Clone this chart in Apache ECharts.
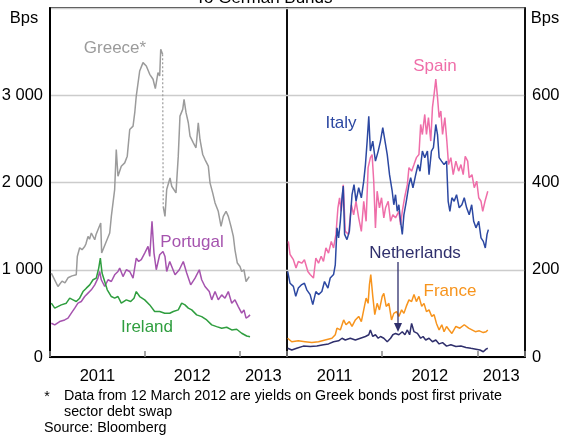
<!DOCTYPE html>
<html><head><meta charset="utf-8">
<script src="https://cdn.jsdelivr.net/npm/echarts@6/dist/echarts.min.js"></script>
<style>html,body{margin:0;padding:0;background:#fff}#c{width:571px;height:436px}</style>
</head><body><div id="c"></div>
<script>
// ---- data: [decimal year, spread in bps] ----
const greecePre = [[2011.014,962],[2011.084,808],[2011.127,870],[2011.158,850],[2011.190,908],[2011.232,930],[2011.277,942],[2011.288,1152],[2011.313,1252],[2011.338,1230],[2011.366,1267],[2011.380,1300],[2011.401,1382],[2011.417,1350],[2011.436,1421],[2011.472,1344],[2011.485,1400],[2011.506,1459],[2011.535,1536],[2011.545,1191],[2011.630,1421],[2011.647,1612],[2011.682,1919],[2011.699,2378],[2011.717,2072],[2011.752,2187],[2011.788,2225],[2011.815,2302],[2011.841,2608],[2011.876,2646],[2011.894,2800],[2011.910,2991],[2011.946,3278],[2011.981,3374],[2012.016,3336],[2012.052,3240],[2012.087,3183],[2012.111,3076],[2012.139,3260],[2012.157,3221],[2012.168,3527],[2012.188,3470]];
const greecePost = [[2012.194,1727],[2012.213,1612],[2012.231,1919],[2012.266,2053],[2012.284,1957],[2012.301,1976],[2012.329,1881],[2012.353,2302],[2012.371,2761],[2012.400,2838],[2012.414,2953],[2012.435,2800],[2012.459,2685],[2012.477,2531],[2012.512,2455],[2012.540,2398],[2012.564,2685],[2012.582,2493],[2012.611,2321],[2012.635,2263],[2012.670,2187],[2012.688,1996],[2012.716,1881],[2012.741,1766],[2012.775,1670],[2012.804,1497],[2012.828,1612],[2012.857,1670],[2012.881,1612],[2012.909,1497],[2012.934,1382],[2012.951,1229],[2012.976,1077],[2013.004,1037],[2013.022,980],[2013.046,1000],[2013.068,865],[2013.081,846],[2013.102,922]];
const portugal = [[2011.014,387],[2011.050,368],[2011.102,406],[2011.155,425],[2011.190,445],[2011.225,502],[2011.261,560],[2011.295,617],[2011.330,636],[2011.366,693],[2011.401,732],[2011.436,770],[2011.472,827],[2011.506,904],[2011.524,980],[2011.541,885],[2011.577,808],[2011.612,885],[2011.647,865],[2011.682,942],[2011.717,980],[2011.735,1019],[2011.770,922],[2011.805,1000],[2011.841,980],[2011.876,904],[2011.910,1134],[2011.935,1095],[2011.963,1115],[2011.999,1191],[2012.034,1267],[2012.052,1152],[2012.076,1555],[2012.097,1191],[2012.121,1000],[2012.157,1172],[2012.192,1210],[2012.213,1152],[2012.231,980],[2012.263,1095],[2012.284,1077],[2012.319,942],[2012.364,1000],[2012.406,1095],[2012.442,962],[2012.484,827],[2012.530,904],[2012.575,1000],[2012.600,885],[2012.635,808],[2012.680,750],[2012.706,655],[2012.741,750],[2012.775,655],[2012.811,712],[2012.846,674],[2012.881,750],[2012.917,617],[2012.951,655],[2012.986,578],[2013.022,502],[2013.046,540],[2013.068,445],[2013.092,463],[2013.110,483]];
const ireland = [[2011.014,617],[2011.050,560],[2011.119,597],[2011.172,617],[2011.208,674],[2011.243,655],[2011.277,636],[2011.313,674],[2011.348,750],[2011.383,789],[2011.419,827],[2011.454,885],[2011.488,904],[2011.514,1019],[2011.531,1134],[2011.549,962],[2011.577,865],[2011.604,770],[2011.647,693],[2011.682,674],[2011.717,693],[2011.752,617],[2011.805,655],[2011.851,636],[2011.886,674],[2011.910,750],[2011.946,693],[2011.999,655],[2012.052,597],[2012.104,521],[2012.157,521],[2012.210,502],[2012.263,502],[2012.301,521],[2012.353,540],[2012.389,617],[2012.424,597],[2012.459,560],[2012.495,540],[2012.547,483],[2012.600,463],[2012.653,425],[2012.706,368],[2012.758,348],[2012.811,330],[2012.864,341],[2012.917,310],[2012.969,318],[2013.022,272],[2013.075,241],[2013.110,233]];
const spain = [[2011.014,265],[2011.032,235],[2011.067,223],[2011.095,204],[2011.119,219],[2011.155,215],[2011.183,223],[2011.219,196],[2011.243,189],[2011.278,181],[2011.303,227],[2011.331,215],[2011.359,231],[2011.383,219],[2011.409,250],[2011.436,238],[2011.465,265],[2011.489,250],[2011.514,281],[2011.535,342],[2011.552,365],[2011.570,334],[2011.591,395],[2011.612,288],[2011.647,281],[2011.676,349],[2011.700,326],[2011.725,357],[2011.753,319],[2011.781,288],[2011.806,357],[2011.831,311],[2011.852,434],[2011.876,457],[2011.894,464],[2011.911,403],[2011.929,296],[2011.947,380],[2011.971,342],[2011.993,365],[2012.017,319],[2012.035,342],[2012.063,357],[2012.088,311],[2012.112,326],[2012.140,319],[2012.175,334],[2012.193,303],[2012.211,334],[2012.235,365],[2012.264,395],[2012.281,434],[2012.309,426],[2012.334,441],[2012.359,457],[2012.386,464],[2012.404,533],[2012.422,510],[2012.447,556],[2012.465,510],[2012.486,549],[2012.510,495],[2012.528,572],[2012.545,602],[2012.563,637],[2012.581,595],[2012.598,549],[2012.616,564],[2012.634,510],[2012.658,549],[2012.679,495],[2012.697,441],[2012.721,457],[2012.746,418],[2012.774,449],[2012.803,426],[2012.827,441],[2012.851,418],[2012.872,460],[2012.898,449],[2012.914,411],[2012.943,418],[2012.967,388],[2012.993,403],[2013.014,365],[2013.038,357],[2013.056,334],[2013.080,357],[2013.098,353],[2013.109,380]];
const italy = [[2011.007,196],[2011.032,169],[2011.067,162],[2011.092,139],[2011.119,158],[2011.155,166],[2011.183,169],[2011.208,154],[2011.243,143],[2011.271,120],[2011.303,150],[2011.331,143],[2011.366,150],[2011.394,173],[2011.430,158],[2011.454,181],[2011.489,189],[2011.507,211],[2011.525,296],[2011.542,273],[2011.560,311],[2011.578,365],[2011.591,392],[2011.605,281],[2011.630,269],[2011.655,288],[2011.683,372],[2011.704,395],[2011.725,357],[2011.753,388],[2011.781,365],[2011.806,403],[2011.824,441],[2011.842,495],[2011.859,552],[2011.876,472],[2011.901,495],[2011.929,449],[2011.958,472],[2011.982,495],[2012.006,526],[2012.027,529],[2012.053,464],[2012.077,418],[2012.105,380],[2012.122,349],[2012.140,372],[2012.158,334],[2012.175,349],[2012.193,311],[2012.211,281],[2012.228,326],[2012.253,357],[2012.281,395],[2012.299,411],[2012.323,388],[2012.352,418],[2012.376,441],[2012.397,426],[2012.422,472],[2012.447,457],[2012.475,472],[2012.492,418],[2012.517,472],[2012.538,480],[2012.563,533],[2012.581,510],[2012.598,457],[2012.623,449],[2012.650,441],[2012.676,449],[2012.693,357],[2012.711,334],[2012.732,365],[2012.756,357],[2012.781,372],[2012.809,342],[2012.837,349],[2012.862,365],[2012.887,342],[2012.914,326],[2012.940,349],[2012.961,311],[2012.985,296],[2013.014,311],[2013.038,273],[2013.062,265],[2013.083,250],[2013.101,281],[2013.115,292]];
const france = [[2011.007,43],[2011.050,35],[2011.119,37],[2011.190,35],[2011.261,33],[2011.331,35],[2011.401,39],[2011.472,43],[2011.507,51],[2011.525,66],[2011.560,62],[2011.595,85],[2011.620,74],[2011.655,81],[2011.683,70],[2011.718,85],[2011.753,93],[2011.781,81],[2011.806,108],[2011.831,135],[2011.852,123],[2011.866,166],[2011.880,189],[2011.901,139],[2011.922,97],[2011.947,123],[2011.971,108],[2012.000,139],[2012.017,146],[2012.042,116],[2012.070,123],[2012.098,85],[2012.122,100],[2012.151,104],[2012.175,93],[2012.204,108],[2012.228,100],[2012.253,116],[2012.281,131],[2012.309,127],[2012.334,143],[2012.359,127],[2012.386,139],[2012.415,116],[2012.439,123],[2012.465,104],[2012.492,108],[2012.521,93],[2012.545,97],[2012.570,77],[2012.598,62],[2012.626,74],[2012.650,58],[2012.676,70],[2012.703,62],[2012.732,54],[2012.774,70],[2012.816,66],[2012.862,74],[2012.908,66],[2012.943,62],[2012.978,58],[2013.020,60],[2013.062,56],[2013.091,58],[2013.109,62]];
const netherlands = [[2011.007,20],[2011.050,16],[2011.102,20],[2011.172,25],[2011.243,24],[2011.314,25],[2011.383,28],[2011.436,30],[2011.489,35],[2011.542,37],[2011.578,43],[2011.612,39],[2011.665,43],[2011.718,39],[2011.771,43],[2011.824,47],[2011.859,51],[2011.876,62],[2011.901,47],[2011.929,51],[2011.958,43],[2011.982,47],[2012.017,43],[2012.053,35],[2012.088,43],[2012.112,51],[2012.140,54],[2012.175,51],[2012.211,58],[2012.239,51],[2012.264,62],[2012.288,51],[2012.309,77],[2012.334,58],[2012.370,54],[2012.404,43],[2012.429,47],[2012.457,39],[2012.492,43],[2012.528,35],[2012.563,39],[2012.598,30],[2012.634,33],[2012.676,25],[2012.721,28],[2012.774,24],[2012.827,25],[2012.880,22],[2012.932,20],[2012.985,18],[2013.027,16],[2013.062,12],[2013.091,18],[2013.109,20]];

// ---- axes / labels ----
const xMin = 2011, xMax = 2013.5;
const yearLabels = ['2011','2012','2013'];
const yearLabelAt = [2011.5, 2012.5, 2013.25];
const leftTicks = [0, 1000, 2000, 3000];
const leftTickLabels = ['0', '1 000', '2 000', '3 000'];
const rightTicks = [0, 200, 400, 600];
const rightTickLabels = ['0', '200', '400', '600'];
const unitLabel = 'Bps';
const subtitle = 'To German Bunds';
const footnote1 = 'Data from 12 March 2012 are yields on Greek bonds post first private';
const footnote2 = 'sector debt swap';
const sourceText = 'Source: Bloomberg';

const FONT = '"Liberation Sans", Arial, Helvetica, sans-serif';
const C = {greece:'#9b9b9b', portugal:'#a553ae', ireland:'#2f9e3f', spain:'#ef6ea9', italy:'#2c48a2', france:'#f7941d', neth:'#2f2f6c'};

const chart = echarts.init(document.getElementById('c'), null, {renderer:'canvas'});

function yLabelFmt(ticks, labels){
  return v => { const i = ticks.indexOf(v); return i >= 0 ? labels[i] : ''; };
}
function xLabelFmt(v){
  for (let i = 0; i < yearLabelAt.length; i++) if (Math.abs(v - yearLabelAt[i]) < 1e-6) return yearLabels[i];
  return '';
}
const tickAxis = gi => ({gridIndex:gi, type:'value', min:xMin, max:xMax, interval:1, position:'bottom',
  axisLine:{show:true, lineStyle:{color:'#000', width:2}}, axisTick:{show:true, inside:true, length:6, lineStyle:{color:'#888', width:1.5}},
  axisLabel:{show:false}, splitLine:{show:false}});
const labelAxis = gi => ({gridIndex:gi, type:'value', min:xMin, max:xMax, interval:0.25, position:'bottom',
  axisLine:{show:false}, axisTick:{show:false}, splitLine:{show:false},
  axisLabel:{show:true, formatter:xLabelFmt, color:'#000', fontSize:16.5, fontFamily:FONT, margin:11, showMinLabel:true, showMaxLabel:true}});

const line = (name, data, color, xi, yi, extra) => Object.assign({
  name, type:'line', data, xAxisIndex:xi, yAxisIndex:yi, showSymbol:false, symbol:'none',
  lineStyle:{color, width:1.5}, itemStyle:{color}, animation:false, silent:true, z:3
}, extra || {});

const txt = (x, y, text, color, size, align, valign) => ({type:'text', x, y, z:100, silent:true,
  style:{text, fill:color, font: size + 'px ' + FONT, textAlign:align || 'center', textVerticalAlign:valign || 'middle'}});

chart.setOption({
  backgroundColor:'#fff',
  animation:false,
  grid:[
    {left:50, top:8, width:237, height:349, show:true, borderColor:'#000', borderWidth:1.5, backgroundColor:'transparent', containLabel:false, outerBoundsMode:'none'},
    {left:287, top:8, width:238, height:349, show:true, borderColor:'#000', borderWidth:1.5, backgroundColor:'transparent', containLabel:false, outerBoundsMode:'none'}
  ],
  xAxis:[tickAxis(0), tickAxis(1), labelAxis(0), labelAxis(1)],
  yAxis:[
    {gridIndex:0, type:'value', min:0, max:4000, interval:1000, position:'left',
     axisLine:{show:true, lineStyle:{color:'#000', width:2}}, axisTick:{show:false},
     splitLine:{show:true, lineStyle:{color:'#cccccc', width:1.3}},
     axisLabel:{formatter:yLabelFmt(leftTicks, leftTickLabels), color:'#000', fontSize:16.5, fontFamily:FONT, margin:7}},
    {gridIndex:1, type:'value', min:0, max:800, interval:200, position:'right',
     axisLine:{show:true, lineStyle:{color:'#000', width:1.5}}, axisTick:{show:false},
     splitLine:{show:true, lineStyle:{color:'#cccccc', width:1.3}},
     axisLabel:{formatter:yLabelFmt(rightTicks, rightTickLabels), color:'#000', fontSize:16.5, fontFamily:FONT, margin:7}}
  ],
  series:[
    line('Greece', greecePre, C.greece, 0, 0),
    line('Greece swap', [greecePre[greecePre.length-1], greecePost[0]], C.greece, 0, 0, {lineStyle:{color:C.greece, width:1.2, type:[2,2]}}),
    line('Greece*', greecePost, C.greece, 0, 0),
    line('Portugal', portugal, C.portugal, 0, 0),
    line('Ireland', ireland, C.ireland, 0, 0),
    line('Spain', spain, C.spain, 1, 1),
    line('Italy', italy, C.italy, 1, 1),
    line('France', france, C.france, 1, 1),
    line('Netherlands', netherlands, C.neth, 1, 1)
  ],
  graphic:[
    txt(264, 7, subtitle, '#000', 17, 'center', 'bottom'),
    txt(24, 18, unitLabel, '#000', 16.5, 'center', 'middle'),
    txt(545, 18, unitLabel, '#000', 16.5, 'center', 'middle'),
    txt(115, 48, 'Greece*', C.greece, 17),
    txt(192, 242, 'Portugal', C.portugal, 17),
    txt(147, 327, 'Ireland', C.ireland, 17),
    txt(435, 66, 'Spain', C.spain, 17),
    txt(341, 123, 'Italy', C.italy, 17),
    txt(415, 253, 'Netherlands', C.neth, 17),
    txt(450, 291, 'France', C.france, 17),
    {type:'line', z:100, silent:true, shape:{x1:398, y1:262, x2:398, y2:324}, style:{stroke:C.neth, lineWidth:1.3}},
    {type:'polygon', z:100, silent:true, shape:{points:[[394,323],[402,323],[398,332]]}, style:{fill:C.neth}},
    txt(47, 397, '*', '#000', 14.3, 'center', 'middle'),
    txt(64, 396, footnote1, '#000', 14.3, 'left', 'middle'),
    txt(64, 412, footnote2, '#000', 14.3, 'left', 'middle'),
    txt(44, 428, sourceText, '#000', 14.3, 'left', 'middle')
  ]
});
</script></body></html>
